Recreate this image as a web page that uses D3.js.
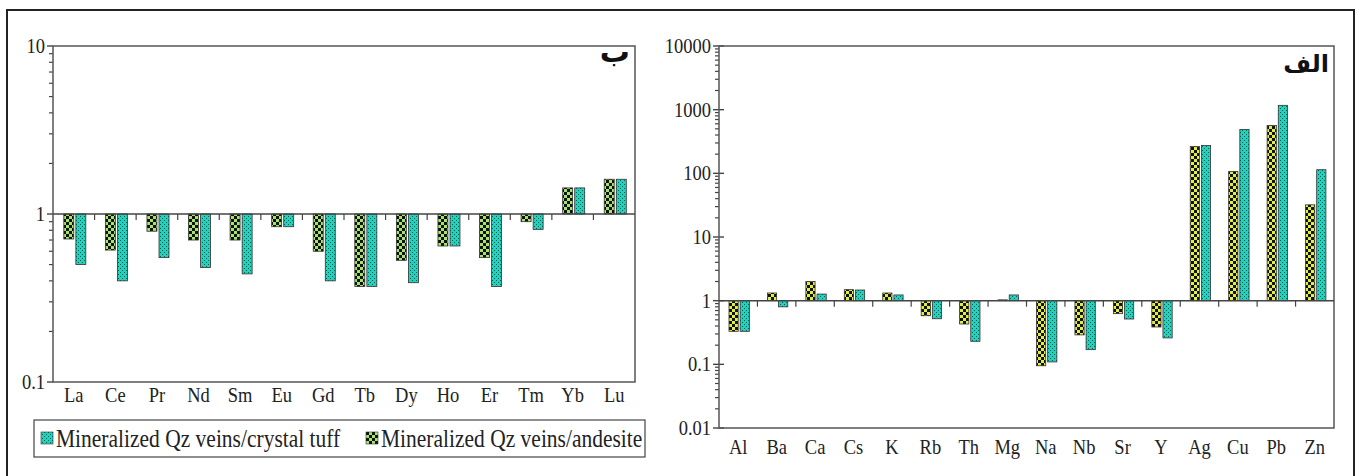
<!DOCTYPE html>
<html>
<head>
<meta charset="utf-8">
<script src="https://cdn.jsdelivr.net/npm/d3@7"></script>
<style>
  body { margin: 0; background: #fff; }
  svg { display: block; }
</style>
</head>
<body>
<div id="graf"></div>
<script>
// I. Datos
reeLabels   = ['La', 'Ce', 'Pr', 'Nd', 'Sm', 'Eu', 'Gd', 'Tb', 'Dy', 'Ho', 'Er', 'Tm', 'Yb', 'Lu']
reeAndesite = [0.71, 0.61, 0.79, 0.70, 0.70, 0.84, 0.60, 0.37, 0.53, 0.645, 0.55, 0.90, 1.43, 1.61]
reeTuff     = [0.50, 0.40, 0.55, 0.48, 0.44, 0.84, 0.40, 0.37, 0.39, 0.645, 0.37, 0.81, 1.43, 1.61]
reeTicks    = [0.1, 1, 10]

elemLabels   = ['Al', 'Ba', 'Ca', 'Cs', 'K', 'Rb', 'Th', 'Mg', 'Na', 'Nb', 'Sr', 'Y', 'Ag', 'Cu', 'Pb', 'Zn']
elemAndesite = [0.33, 1.32, 2.0, 1.49, 1.32, 0.58, 0.43, 1.03, 0.095, 0.29, 0.625, 0.386, 265, 107, 565, 32]
elemTuff     = [0.33, 0.80, 1.27, 1.47, 1.23, 0.52, 0.23, 1.23, 0.109, 0.17, 0.515, 0.26, 273, 490, 1170, 114]
elemTicks    = [0.01, 0.1, 1, 10, 100, 1000, 10000]

legendLabels = ['Mineralized Qz veins/crystal tuff', 'Mineralized Qz veins/andesite']

// II. Configuracion
ancho_total = 1357
alto_total = 476
serif = "'Liberation Serif', Tinos, 'Times New Roman', serif"
// el texto del original esta algo estirado en vertical
estira = 1.15

svg = d3.select('#graf').append('svg')
        .attr('width', ancho_total)
        .attr('height', alto_total)

// patrones de relleno (cuadriculado y punteado)
defs = svg.append('defs')
function checker(id, light) {
  p = defs.append('pattern').attr('id', id)
          .attr('patternUnits', 'userSpaceOnUse')
          .attr('width', 6).attr('height', 6)
  p.append('rect').attr('width', 6).attr('height', 6).attr('fill', light)
  p.append('rect').attr('width', 3).attr('height', 3).attr('fill', '#111')
  p.append('rect').attr('x', 3).attr('y', 3).attr('width', 3).attr('height', 3).attr('fill', '#111')
}
checker('chkGreen', '#a6e46a')
checker('chkYellow', '#e2f03c')

dots = defs.append('pattern').attr('id', 'dots')
           .attr('patternUnits', 'userSpaceOnUse')
           .attr('width', 4).attr('height', 4)
dots.append('rect').attr('width', 4).attr('height', 4).attr('fill', '#24d2bc')
dots.append('rect').attr('x', 0).attr('y', 0).attr('width', 1).attr('height', 1).attr('fill', '#0b5a55')
dots.append('rect').attr('x', 2).attr('y', 2).attr('width', 1).attr('height', 1).attr('fill', '#0b5a55')

// marco exterior
svg.append('rect')
   .attr('x', 7).attr('y', 10)
   .attr('width', 1347).attr('height', 480)
   .attr('fill', 'none').attr('stroke', '#222').attr('stroke-width', 2)

// III. Funcion para dibujar un panel
function panel(cfg) {
  x = d3.scaleBand().domain(cfg.labels).range([cfg.left, cfg.right])
  y = d3.scaleLog().domain([cfg.ticks[0], cfg.ticks[cfg.ticks.length - 1]]).range([cfg.bottom, cfg.top])
  g = svg.append('g')

  // ticks menores del eje y
  minor = []
  for (i = 0; i < cfg.ticks.length - 1; i++) {
    for (k = 2; k <= 9; k++) minor.push(cfg.ticks[i] * k)
  }
  g.selectAll('.minor').data(minor).enter().append('line')
   .attr('x1', cfg.left - 4).attr('x2', cfg.left)
   .attr('y1', d => y(d)).attr('y2', d => y(d))
   .attr('stroke', '#444').attr('stroke-width', 1.2)
  g.selectAll('.major').data(cfg.ticks).enter().append('line')
   .attr('x1', cfg.left - 6).attr('x2', cfg.left + cfg.majorIn)
   .attr('y1', d => y(d)).attr('y2', d => y(d))
   .attr('stroke', '#444').attr('stroke-width', 1.4)
  g.selectAll('.ylab').data(cfg.ticks).enter().append('text')
   .attr('font-family', serif).attr('font-size', 18.5).attr('fill', '#222')
   .attr('transform', d => `translate(${cfg.left - 8}, ${y(d)}) scale(1, ${estira})`)
   .attr('dy', '0.33em').attr('text-anchor', 'end')
   .text(d => d)

  // barras
  bw = x.bandwidth() * 0.24
  gap = x.bandwidth() * 0.05
  series = [
    { vals: cfg.andesite, fill: cfg.chk, dx: -bw },
    { vals: cfg.tuff, fill: 'url(#dots)', dx: gap }
  ]
  series.forEach(s => {
    g.selectAll(null).data(s.vals).enter().append('rect')
     .attr('x', (d, i) => x(cfg.labels[i]) + x.bandwidth() / 2 + s.dx)
     .attr('y', d => Math.min(y(1), y(d)))
     .attr('width', bw)
     .attr('height', d => Math.abs(y(d) - y(1)))
     .attr('fill', s.fill)
     .attr('stroke', '#333').attr('stroke-width', 0.8)
  })

  // marco del area de grafico
  g.append('rect')
   .attr('x', cfg.left).attr('y', cfg.top)
   .attr('width', cfg.right - cfg.left).attr('height', cfg.bottom - cfg.top)
   .attr('fill', 'none').attr('stroke', '#555').attr('stroke-width', 1.5)

  // eje x en el valor 1 con ticks entre categorias
  g.append('line')
   .attr('x1', cfg.left).attr('x2', cfg.right)
   .attr('y1', y(1)).attr('y2', y(1))
   .attr('stroke', '#444').attr('stroke-width', 1.5)
  g.selectAll('.xt').data(cfg.labels.slice(1)).enter().append('line')
   .attr('x1', d => x(d)).attr('x2', d => x(d))
   .attr('y1', y(1)).attr('y2', y(1) + 6)
   .attr('stroke', '#444').attr('stroke-width', 1.2)

  g.selectAll('.xlab').data(cfg.labels).enter().append('text')
   .attr('font-family', serif).attr('font-size', 18.5).attr('fill', '#222')
   .attr('transform', d => `translate(${x(d) + x.bandwidth() / 2}, ${cfg.bottom + cfg.labDy}) scale(1, ${estira})`)
   .attr('text-anchor', 'middle')
   .text(d => d)

  g.append('text')
   .attr('font-family', "'DejaVu Sans', sans-serif").attr('font-size', cfg.tagSize)
   .attr('font-weight', 'bold').attr('fill', '#111')
   .attr('x', cfg.right - 5).attr('y', cfg.top + cfg.tagDy)
   .attr('text-anchor', 'end')
   .text(cfg.tag)
}

panel({ labels: reeLabels, andesite: reeAndesite, tuff: reeTuff, ticks: reeTicks,
        left: 53, right: 635, top: 46, bottom: 382, chk: 'url(#chkGreen)', majorIn: 0,
        labDy: 20, tag: 'ب', tagDy: 16, tagSize: 30 })
panel({ labels: elemLabels, andesite: elemAndesite, tuff: elemTuff, ticks: elemTicks,
        left: 719, right: 1334, top: 46, bottom: 428, chk: 'url(#chkYellow)', majorIn: 5,
        labDy: 26, tag: 'الف', tagDy: 26, tagSize: 24 })

// IV. Leyenda
leg = svg.append('g')
leg.append('rect')
   .attr('x', 34).attr('y', 420).attr('width', 611).attr('height', 37)
   .attr('fill', '#fff').attr('stroke', '#444').attr('stroke-width', 1.2)
legX = [41, 366]
legFill = ['url(#dots)', 'url(#chkGreen)']
legendLabels.forEach((t, i) => {
  leg.append('rect')
     .attr('x', legX[i]).attr('y', 432).attr('width', 12).attr('height', 12)
     .attr('fill', legFill[i]).attr('stroke', '#333').attr('stroke-width', 0.6)
  leg.append('text')
     .attr('font-family', serif).attr('font-size', 21.5).attr('fill', '#222')
     .attr('transform', `translate(${legX[i] + 15}, 438.5) scale(1, ${estira})`)
     .attr('dy', '0.33em')
     .text(t)
})
</script>
</body>
</html>
